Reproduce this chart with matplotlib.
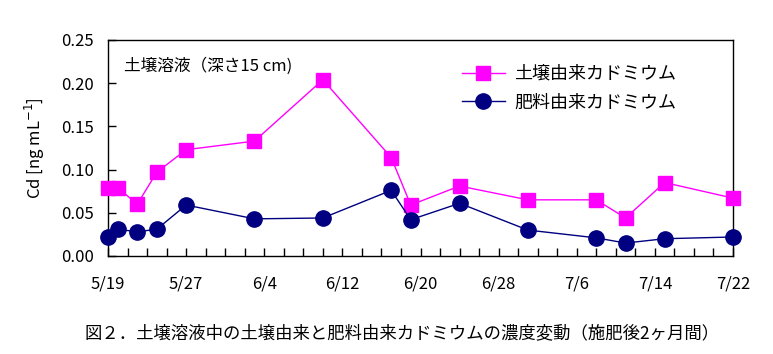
import matplotlib
matplotlib.use("Agg")
import matplotlib.pyplot as plt
import datetime as dt

plt.rcParams['font.family'] = ['Noto Sans CJK JP', 'DejaVu Sans']

dates = ["5/19", "5/20", "5/22", "5/24", "5/27", "6/3", "6/10", "6/17", "6/19",
         "6/24", "7/1", "7/8", "7/11", "7/15", "7/22"]
soil_cd = [0.079, 0.079, 0.060, 0.097, 0.123, 0.133, 0.204, 0.114, 0.059,
           0.081, 0.065, 0.065, 0.044, 0.085, 0.067]
fert_cd = [0.022, 0.031, 0.028, 0.031, 0.059, 0.043, 0.044, 0.076, 0.042,
           0.061, 0.030, 0.021, 0.015, 0.020, 0.022]
tick_labels = ["5/19", "5/27", "6/4", "6/12", "6/20", "6/28", "7/6", "7/14", "7/22"]

def to_date(s):
    m, d = s.split("/")
    return dt.date(2000, int(m), int(d))

x = [to_date(s) for s in dates]

fig = plt.figure(figsize=(7.73, 3.54), dpi=100)
ax = fig.add_axes([108/773, 1-256/354, (733-108)/773, (256-40)/354])

ax.plot(x, soil_cd, color='#FF00FF', lw=1, marker='s', ms=10.5, mec='#FF00FF',
        mfc='#FF00FF', label='土壌由来カドミウム', clip_on=False, zorder=3)
ax.plot(x, fert_cd, color='#000080', lw=1, marker='o', ms=11, mec='#000080',
        mfc='#000080', label='肥料由来カドミウム', clip_on=False, zorder=4)

ax.set_xlim(to_date("5/19"), to_date("7/22"))
ax.set_ylim(0, 0.25)
ax.set_yticks([0, 0.05, 0.10, 0.15, 0.20, 0.25])
ax.set_yticklabels(["0.00", "0.05", "0.10", "0.15", "0.20", "0.25"], fontsize=12)
ax.set_xticks([to_date(s) for s in tick_labels])
ax.set_xticklabels(tick_labels, fontsize=12)
minor = [to_date("5/19") + dt.timedelta(days=i) for i in range(0, 65, 2)]
ax.set_xticks(minor, minor=True)
ax.tick_params(axis='x', which='both', direction='in', length=6, top=False, pad=14, width=1)
ax.tick_params(axis='y', direction='in', length=6, right=False, pad=10, width=1)
for sp in ax.spines.values():
    sp.set_linewidth(1)

ax.set_ylabel("Cd [ng mL$^{-1}$]", fontsize=12, labelpad=10)

ax.text(0.025, 0.88, "土壌溶液（深さ15 cm)", transform=ax.transAxes, fontsize=12,
        va='center', ha='left')

leg = ax.legend(loc='upper left', bbox_to_anchor=(0.54, 0.96), frameon=False,
                fontsize=13, markerscale=1.0, handlelength=2.4, labelspacing=0.6,
                handletextpad=0.5)

fig.text(0.52, 1-333/354, "図２．土壌溶液中の土壌由来と肥料由来カドミウムの濃度変動（施肥後2ヶ月間）",
         ha='center', va='center', fontsize=12.5)

fig.savefig("out.png", dpi=100)
